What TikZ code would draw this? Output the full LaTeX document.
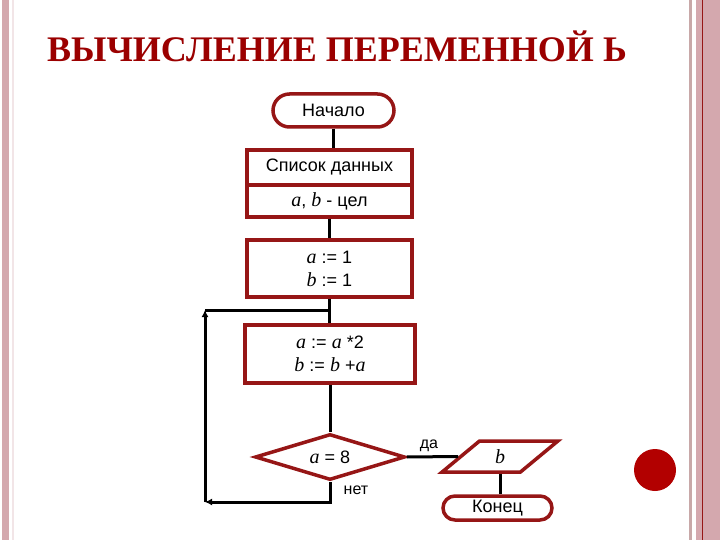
\documentclass[tikz,border=0pt]{standalone}
\usepackage{fontspec}
\setmainfont{Liberation Sans}
\newfontfamily\titlefont{Liberation Serif}
\newfontfamily\mathitfont{Liberation Serif}
\usetikzlibrary{shapes.geometric,shapes.misc,arrows.meta}
\definecolor{shapered}{RGB}{150,22,22}
\definecolor{titlered}{RGB}{155,0,0}
\definecolor{borderpink}{RGB}{212,168,174}
\definecolor{borderline}{RGB}{200,168,168}
\definecolor{dotred}{RGB}{178,0,0}
\newcommand{\vi}[1]{{\mathitfont\itshape\fontsize{20}{20}\selectfont #1}}
\tikzset{
  x=1pt, y=-1pt,
  fc/.style={draw=shapered, line width=3.5pt, fill=white, font=\fontsize{18}{22}\selectfont, inner sep=0pt, align=center},
  term/.style={fc, rounded rectangle},
  boxnode/.style={fc, rectangle},
  conn/.style={line width=3pt, black},
  arr/.style={conn, -{Latex[length=7pt,width=7pt]}},
  lbl/.style={font=\fontsize{16}{18}\selectfont, inner sep=0pt}
}
\begin{document}
\begin{tikzpicture}
\useasboundingbox (0,0) rectangle (720,540);
\fill[white] (0,0) rectangle (720,540);
% page borders
\fill[borderpink] (2,0) rectangle (9,540);
\fill[borderpink!30] (12,0) rectangle (14,540);
\fill[borderline] (689,0) rectangle (692,540);
\fill[borderpink] (696,0) rectangle (720,540);
\fill[shapered] (701.5,0) rectangle (703,540);
% title
\node[anchor=base west, inner sep=0pt, text=titlered, font=\titlefont\bfseries\fontsize{36}{40}\selectfont] (title) at (47,62) {ВЫЧИСЛЕНИЕ ПЕРЕМЕННОЙ Ь};
% flowchart
\node[term, minimum width=121pt, minimum height=33pt] (start) at (333.5,110.5) {Начало};
\node[boxnode, minimum width=165pt, minimum height=35pt] (list1) at (329.5,167.5) {Список данных};
\node[boxnode, minimum width=165pt, minimum height=32pt] (list2) at (329.5,201) {\vi{a}, \vi{b} - цел};
\node[boxnode, minimum width=165pt, minimum height=57pt] (init) at (329.5,268.5) {\vi{a} := 1\\[1pt] \vi{b} := 1};
\node[boxnode, minimum width=170pt, minimum height=58pt] (body) at (330,354) {\vi{a} := \vi{a} *2\\[1pt] \vi{b} := \vi{b} +\vi{a}};
\node[fc, diamond, minimum width=150pt, minimum height=46pt, aspect=3.26] (cond) at (330,457) {\vi{a} = 8};
\node[fc, trapezium, trapezium left angle=57, trapezium right angle=123, trapezium stretches=true, minimum width=116pt, minimum height=31pt] (out) at (500,456.5) {\vi{b}};
\node[term, minimum width=109pt, minimum height=24pt] (end) at (497.5,508) {Конец};
% connectors
\coordinate (cb) at (205,502);
\coordinate (ct) at (205,310);
\coordinate (j) at (330,310);
\draw[conn] (start.south) -- (start.south |- list1.north);
\draw[conn] (list2.south) -- (list2.south |- init.north);
\draw[conn] (init.south) -- (init.south |- body.north);
\draw[conn] (body.south) -- (cond.north);
\draw[conn] (cond.east) -- (out.west);
\draw[conn] (out.south) -- (out.south |- end.north);
\draw[arr] (cond.south) |- (cb);
\draw[arr] (cb) -- (ct);
\draw[conn] (ct) -- (j);
% labels
\node[lbl] (yes) at (429,446) {да};
\node[lbl] (no) at (356,490) {нет};
% decorative dot
\fill[dotred] (655,470) circle (21);
\end{tikzpicture}
\end{document}
